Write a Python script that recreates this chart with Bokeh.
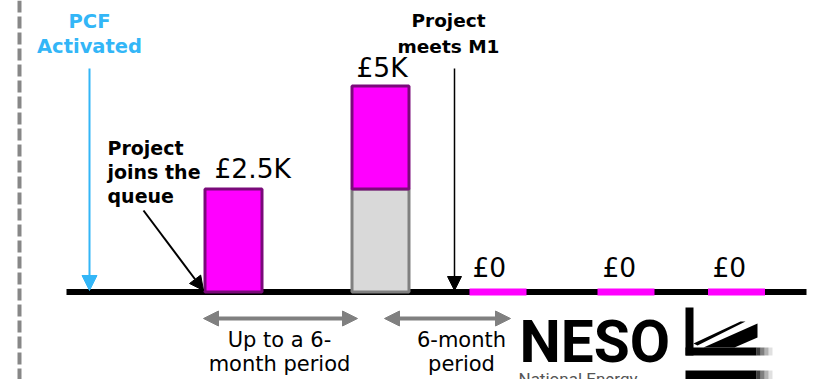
from bokeh.plotting import figure
from bokeh.models import Range1d, Arrow, NormalHead, ColumnDataSource, Label, Span
from bokeh.embed import file_html
from bokeh.resources import INLINE

# ---------------- data ----------------
stages = ["Joins queue", "Second payment", "After M1 (1)", "After M1 (2)", "After M1 (3)"]
new_security = [2.5, 2.5, 0, 0, 0]    # £K newly paid (magenta)
held_security = [0, 2.5, 0, 0, 0]     # £K already held (grey)
amount_labels = ["£2.5K", "£5K", "£0", "£0", "£0"]
period_labels = [["Up to a 6-", "month period"], ["6-month", "period"]]
event_labels = {"pcf": ["PCF", "Activated"],
                "join": ["Project", "joins the", "queue"],
                "m1": ["Project", "meets M1"]}

# ---------------- layout ----------------
W, H = 820, 379
BASE = 291.5      # baseline pixel row (from top)
PXK = 41.2        # pixels per £1K


def Y(px):
    return (BASE - px) / PXK


def TY(px, size, k=0.3, c=1.5):
    # baseline row in pixels -> data y for a Label (renderer offset compensation)
    return Y(px - (k * size + c))


stage_x = [233, 380, 497.5, 625.5, 736]
bar_w = 57
label_left = [214, 356, 472, 602, 712]

MAG = "#FF00FF"
PURPLE = "#7A0A7A"
GREY_FILL = "#D9D9D9"
GREY_LINE = "#808080"
BLUE = "#33B6F7"
BOLD = "DejaVu Sans"
REG = "DejaVu Sans"

p = figure(width=W, height=H, x_range=Range1d(0, W), y_range=Range1d(Y(H), Y(0)),
           output_backend="svg", toolbar_location=None, x_axis_type=None, y_axis_type=None,
           min_border=0, min_border_left=0, min_border_right=0, min_border_top=0,
           min_border_bottom=0, outline_line_color=None, background_fill_color="white",
           border_fill_color="white")

# dashed separator
p.add_layout(Span(location=19, dimension="height", line_color="#878787", line_width=4,
                  line_dash="12 4"))

# baseline
p.segment(x0=[66], y0=[0], x1=[806], y1=[0], line_color="black", line_width=6)

# bars
held_src = ColumnDataSource(dict(
    x=[x for x, h in zip(stage_x, held_security) if h > 0],
    top=[h for h in held_security if h > 0]))
p.vbar(x="x", top="top", bottom=0, width=bar_w, source=held_src,
       fill_color=GREY_FILL, line_color=GREY_LINE, line_width=3)
new_src = ColumnDataSource(dict(
    x=[x for x, n in zip(stage_x, new_security) if n > 0],
    bottom=[h for n, h in zip(new_security, held_security) if n > 0],
    top=[h + n for n, h in zip(new_security, held_security) if n > 0]))
p.vbar(x="x", top="top", bottom="bottom", width=bar_w, source=new_src,
       fill_color=MAG, line_color=PURPLE, line_width=3)

# zero payments
zero_x = [x for x, n, h in zip(stage_x, new_security, held_security) if n + h == 0]
p.segment(x0=[x - 28.5 for x in zero_x], y0=[0] * len(zero_x),
          x1=[x + 28.5 for x in zero_x], y1=[0] * len(zero_x),
          line_color=MAG, line_width=7)

# amount labels
AMT = 26.5
for lx, n, h, t in zip(label_left, new_security, held_security, amount_labels):
    total = n + h
    if total >= 5:
        off = 9.5
    elif total > 0:
        off = 11.5
    else:
        off = 15.5
    top_px = BASE - total * PXK
    p.add_layout(Label(x=lx, y=TY(top_px - off, AMT), text=t, text_font=REG,
                       text_font_size=f"{AMT}px", text_color="black",
                       text_baseline="alphabetic", text_align="left"))

# PCF activated
for t, by in zip(event_labels["pcf"], [28, 53]):
    p.add_layout(Label(x=89, y=TY(by, 19.5), text=t, text_font=BOLD, text_font_style="bold",
                       text_font_size="19.5px", text_color=BLUE,
                       text_baseline="alphabetic", text_align="center"))
p.add_layout(Arrow(end=NormalHead(size=15, fill_color=BLUE, line_color=BLUE),
                   x_start=89, y_start=Y(68), x_end=89, y_end=Y(290),
                   line_color=BLUE, line_width=2))

# project joins the queue
for t, by in zip(event_labels["join"], [155, 179, 203]):
    p.add_layout(Label(x=107, y=TY(by, 19), text=t, text_font=BOLD, text_font_style="bold",
                       text_font_size="19px", text_color="black",
                       text_baseline="alphabetic", text_align="left"))
p.add_layout(Arrow(end=NormalHead(size=14, fill_color="black", line_color="black"),
                   x_start=143, y_start=Y(210), x_end=203, y_end=Y(290),
                   line_color="black", line_width=2))

# project meets M1
for t, by in zip(event_labels["m1"], [27, 53]):
    p.add_layout(Label(x=448, y=TY(by, 18.5), text=t, text_font=BOLD, text_font_style="bold",
                       text_font_size="18.5px", text_color="black",
                       text_baseline="alphabetic", text_align="center"))
p.add_layout(Arrow(end=NormalHead(size=14, fill_color="black", line_color="black"),
                   x_start=454, y_start=Y(68), x_end=454, y_end=Y(290),
                   line_color="black", line_width=1.5))

# period arrows and labels
for (xa, xb, cx), lines in zip([(203, 357, 279), (384, 510, 461)], period_labels):
    p.add_layout(Arrow(start=NormalHead(size=15, fill_color=GREY_LINE, line_color=GREY_LINE),
                       end=NormalHead(size=15, fill_color=GREY_LINE, line_color=GREY_LINE),
                       x_start=xa, y_start=Y(318), x_end=xb, y_end=Y(318),
                       line_color=GREY_LINE, line_width=4))
    for t, by in zip(lines, [347, 371]):
        p.add_layout(Label(x=cx, y=TY(by, 21), text=t, text_font=REG, text_font_size="21px",
                           text_color="black", text_baseline="alphabetic",
                           text_align="center"))

# NESO logo
p.add_layout(Label(x=519, y=Y(362 - 21), text="NESO", text_font="Roboto",
                   text_font_style="bold", text_font_size="58.5px", text_color="black",
                   text_baseline="alphabetic", text_align="left"))
p.add_layout(Label(x=518, y=Y(387 - 9), text="National Energy", text_font="Roboto",
                   text_font_size="17px", text_color="#555555", text_baseline="alphabetic",
                   text_align="left"))


def poly(pts):
    return [x for x, _ in pts], [Y(y) for _, y in pts]


shapes = [
    [(685, 307), (693, 307), (693, 355), (685, 355)],
    [(685, 347), (756, 347), (756, 355), (685, 355)],
    [(703, 347), (757, 323), (757, 337), (734, 347)],
    [(693, 343), (740, 321), (745, 321), (697, 345)],
    [(685, 370), (756, 370), (756, 380), (685, 380)],
]
xs, ys = zip(*[poly(s) for s in shapes])
p.patches(list(xs), list(ys), fill_color="black", line_color=None)
for i, a in enumerate([0.75, 0.5, 0.3, 0.12]):
    x0 = 756 + 4 * i
    fx, fy = zip(*[poly([(x0, 347), (x0 + 4, 347), (x0 + 4, 355), (x0, 355)]),
                   poly([(x0, 370), (x0 + 4, 370), (x0 + 4, 380), (x0, 380)])])
    p.patches(list(fx), list(fy), fill_color="black", fill_alpha=a, line_color=None)

open("out.html", "w").write(file_html(p, INLINE))
